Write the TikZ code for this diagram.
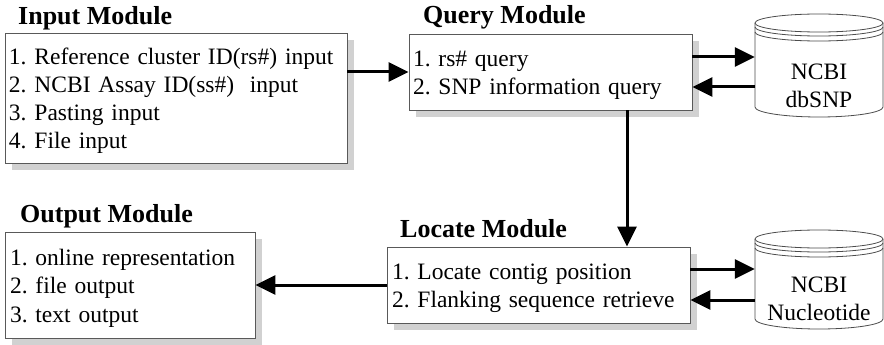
\documentclass[tikz,border=0pt]{standalone}
\usepackage{fontspec}
\setmainfont{Liberation Serif}
\usetikzlibrary{shadows,arrows.meta,calc}
\frenchspacing
\hyphenpenalty=10000
\newcommand\topstrut{\rule{0pt}{23pt}}
\tikzset{
  mbox/.style={rectangle, draw=black!65, line width=0.8pt, fill=white,
    inner xsep=4pt, inner ysep=0pt, align=left, anchor=center,
    font=\fontsize{23.5}{28}\selectfont,
    drop shadow={shadow xshift=7pt, shadow yshift=-7pt, fill=black!18, opacity=1}},
  modtitle/.style={anchor=base west, inner sep=0pt, font=\fontsize{26}{30}\selectfont\bfseries},
  arr/.style={line width=3pt, -{Triangle[length=20pt,width=19pt]}},
  cyltext/.style={align=center, font=\fontsize{23.5}{28}\selectfont, minimum width=128pt, inner sep=0pt},
  cylline/.style={draw=black!70, line width=0.8pt, fill=white}
}
\begin{document}
\begin{tikzpicture}[x=1pt,y=-1pt]
\useasboundingbox (0,0) rectangle (884,345);

% titles
\node[modtitle] (tin)  at (18,25)  {Input Module};
\node[modtitle] (tq)   at (423,24) {Query Module};
\node[modtitle] (tout) at (20,222) {Output Module};
\node[modtitle] (tloc) at (400,237) {Locate Module};

% boxes
\node[mbox, minimum width=342pt, minimum height=130pt, text width=334pt] (inp) at (176,98)
  {\topstrut 1. Reference cluster ID(rs\#) input\\2. NCBI Assay ID(ss\#)\ \ input\\3. Pasting input\\4. File input};
\node[mbox, minimum width=283pt, minimum height=76pt, text width=275pt] (qry) at (550.5,72)
  {\topstrut 1. rs\# query\\2. SNP information query};
\node[mbox, minimum width=303pt, minimum height=76pt, text width=293pt, inner xsep=5pt] (loc) at (538.5,285)
  {\topstrut 1. Locate contig position\\2. Flanking sequence retrieve};
\node[mbox, minimum width=250pt, minimum height=106pt, text width=240pt, inner xsep=5pt] (out) at (130,285)
  {\topstrut 1. online representation\\2. file output\\3. text output};

% cylinder dbSNP
\path[cylline] (755,23) -- (755,107) arc[start angle=180, end angle=360, x radius=64pt, y radius=10pt] -- (883,23);
\draw[cylline] (819,23) ellipse [x radius=64pt, y radius=9pt];
\draw[cylline, fill=none] (755,27) arc[start angle=180, end angle=360, x radius=64pt, y radius=9pt];
\draw[cylline, fill=none] (755,32) arc[start angle=180, end angle=360, x radius=64pt, y radius=9pt];
\node[cyltext] (db) at (819,86) {NCBI\\dbSNP};

% cylinder Nucleotide
\path[cylline] (755,239) -- (755,319) arc[start angle=180, end angle=360, x radius=64pt, y radius=10pt] -- (883,239);
\draw[cylline] (819,239) ellipse [x radius=64pt, y radius=9pt];
\draw[cylline, fill=none] (755,243) arc[start angle=180, end angle=360, x radius=64pt, y radius=9pt];
\draw[cylline, fill=none] (755,248) arc[start angle=180, end angle=360, x radius=64pt, y radius=9pt];
\node[cyltext] (nuc) at (819,299) {NCBI\\Nucleotide};

% connectors
\draw[arr] (inp.east |- qry.west) -- (qry.west);
\draw[arr] ([yshift=15pt]qry.east) -- ([yshift=15pt]qry.east -| db.west);
\draw[arr] ([yshift=-15pt]qry.east -| db.west) -- ([yshift=-15pt]qry.east);
\draw[arr] ([xshift=76.5pt]qry.south) -- ([xshift=76.5pt]qry.south |- loc.north);
\draw[arr] ([yshift=16pt]loc.east) -- ([yshift=16pt]loc.east -| nuc.west);
\draw[arr] ([yshift=-15pt]loc.east -| nuc.west) -- ([yshift=-15pt]loc.east);
\draw[arr] (loc.west) -- (loc.west -| out.east);
\end{tikzpicture}
\end{document}
